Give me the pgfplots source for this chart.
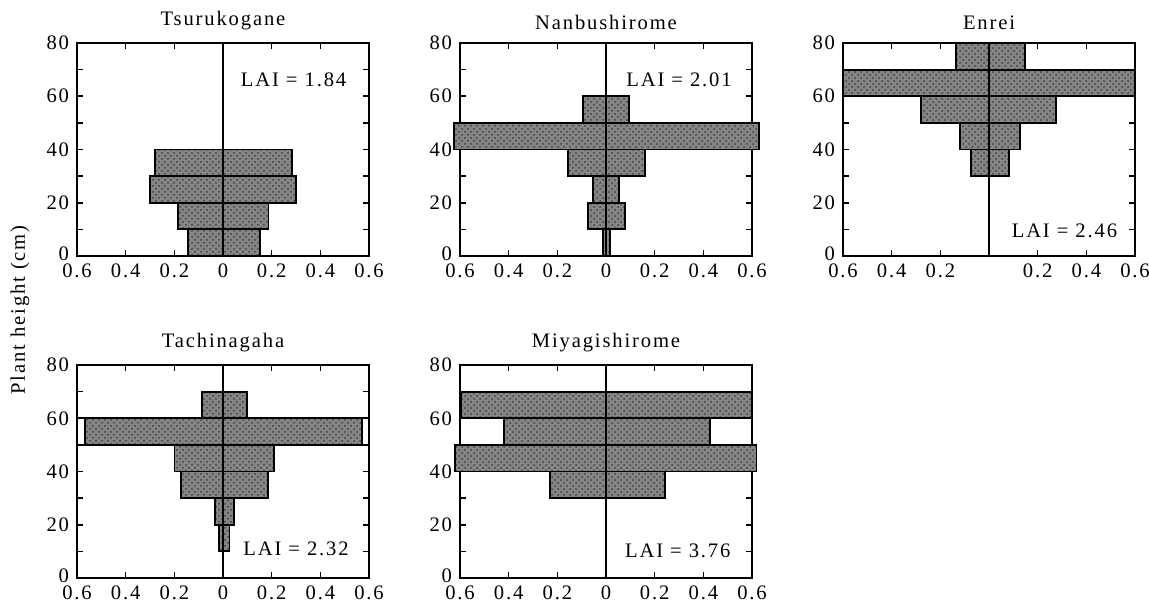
\documentclass[border=0pt]{standalone}
\usepackage{pgfplots}
\pgfplotsset{compat=1.18}
\usetikzlibrary{patterns}
\usepackage{fontspec}
\setmainfont{Liberation Serif}[LetterSpace=9]
\pgfplotsset{
  panel/.style={
    scale only axis, width=146pt, height=106.5pt,
    xmin=-0.6, xmax=0.6, ymin=0, ymax=80,
    xtick={-0.6,-0.4,-0.2,0,0.2,0.4,0.6},
    xticklabels={0.6,0.4,0.2,0,0.2,0.4,0.6},
    ytick={0,10,...,80},
    yticklabels={\raisebox{2pt}{0},,20,,40,,60,,80},
    tick align=inside, major tick length=3pt,
    tick style={black, line width=0.8pt},
    axis line style={line width=1pt},
    clip=false,
    font=\fontsize{10.3}{12}\selectfont,
    title style={yshift=-3pt},
    xticklabel style={yshift=-2.8pt, inner sep=1pt},
    yticklabel style={xshift=-2.8pt, inner sep=1pt},
  },
  bar/.style={draw=black, line width=0.9pt, fill=black!48,
    postaction={pattern=crosshatch dots, pattern color=black!75}},
  mid/.style={black, line width=0.6pt},
}
\begin{document}
\begin{tikzpicture}
\useasboundingbox (0pt,0pt) rectangle (574.5pt,301.5pt);
% Tsurukogane
\begin{axis}[panel, at={(38.5pt,173.5pt)}, anchor=south west, title={Tsurukogane}]
\addplot[bar] coordinates {(-0.144,0) (0.151,0) (0.151,10) (-0.144,10)} -- cycle;
\addplot[bar] coordinates {(-0.185,10) (0.187,10) (0.187,20) (-0.185,20)} -- cycle;
\addplot[bar] coordinates {(-0.299,20) (0.299,20) (0.299,30) (-0.299,30)} -- cycle;
\addplot[bar] coordinates {(-0.281,30) (0.285,30) (0.285,40) (-0.281,40)} -- cycle;
\addplot[mid] coordinates {(0,0) (0,80)};
\node at (axis cs:0.29,66) {LAI = 1.84};
\end{axis}
% Nanbushirome
\begin{axis}[panel, at={(230pt,173.5pt)}, anchor=south west, title={Nanbushirome}]
\addplot[bar] coordinates {(-0.014,0) (0.016,0) (0.016,10) (-0.014,10)} -- cycle;
\addplot[bar] coordinates {(-0.075,10) (0.078,10) (0.078,20) (-0.075,20)} -- cycle;
\addplot[bar] coordinates {(-0.052,20) (0.053,20) (0.053,30) (-0.052,30)} -- cycle;
\addplot[bar] coordinates {(-0.155,30) (0.160,30) (0.160,40) (-0.155,40)} -- cycle;
\addplot[bar] coordinates {(-0.625,40) (0.627,40) (0.627,50) (-0.625,50)} -- cycle;
\addplot[bar] coordinates {(-0.093,50) (0.094,50) (0.094,60) (-0.093,60)} -- cycle;
\addplot[mid] coordinates {(0,0) (0,80)};
\node at (axis cs:0.30,66) {LAI = 2.01};
\end{axis}
% Enrei
\begin{axis}[panel, at={(421.5pt,173.5pt)}, anchor=south west, title={Enrei},
  xticklabels={0.6,0.4,0.2,,0.2,0.4,0.6}]
\addplot[bar] coordinates {(-0.074,30) (0.081,30) (0.081,40) (-0.074,40)} -- cycle;
\addplot[bar] coordinates {(-0.119,40) (0.127,40) (0.127,50) (-0.119,50)} -- cycle;
\addplot[bar] coordinates {(-0.279,50) (0.276,50) (0.276,60) (-0.279,60)} -- cycle;
\addplot[bar] coordinates {(-0.6,60) (0.6,60) (0.6,70) (-0.6,70)} -- cycle;
\addplot[bar] coordinates {(-0.135,70) (0.148,70) (0.148,80) (-0.135,80)} -- cycle;
\addplot[mid] coordinates {(0,0) (0,80)};
\node at (axis cs:0.31,9.5) {LAI = 2.46};
\end{axis}
% Tachinagaha
\begin{axis}[panel, at={(38.5pt,12.5pt)}, anchor=south west, title={Tachinagaha}]
\addplot[draw=black, line width=0.9pt, fill=white] coordinates {(-0.6,50) (0.6,50) (0.6,60) (-0.6,60)} -- cycle;
\addplot[bar] coordinates {(-0.018,10) (0.027,10) (0.027,20) (-0.018,20)} -- cycle;
\addplot[bar] coordinates {(-0.032,20) (0.044,20) (0.044,30) (-0.032,30)} -- cycle;
\addplot[bar] coordinates {(-0.174,30) (0.185,30) (0.185,40) (-0.174,40)} -- cycle;
\addplot[bar] coordinates {(-0.199,40) (0.209,40) (0.209,50) (-0.199,50)} -- cycle;
\addplot[bar] coordinates {(-0.567,50) (0.572,50) (0.572,60) (-0.567,60)} -- cycle;
\addplot[bar] coordinates {(-0.086,60) (0.099,60) (0.099,70) (-0.086,70)} -- cycle;
\addplot[mid] coordinates {(0,0) (0,80)};
\node at (axis cs:0.30,11) {LAI = 2.32};
\end{axis}
% Miyagishirome
\begin{axis}[panel, at={(230pt,12.5pt)}, anchor=south west, title={Miyagishirome}]
\addplot[bar] coordinates {(-0.230,30) (0.241,30) (0.241,40) (-0.230,40)} -- cycle;
\addplot[bar] coordinates {(-0.621,40) (0.618,40) (0.618,50) (-0.621,50)} -- cycle;
\addplot[bar] coordinates {(-0.420,50) (0.428,50) (0.428,60) (-0.420,60)} -- cycle;
\addplot[bar] coordinates {(-0.595,60) (0.599,60) (0.599,70) (-0.595,70)} -- cycle;
\addplot[mid] coordinates {(0,0) (0,80)};
\node at (axis cs:0.295,10.2) {LAI = 3.76};
\end{axis}
\node[rotate=90, font=\fontsize{10.3}{12}\selectfont] at (10pt,146.5pt) {Plant height (cm)};
\end{tikzpicture}
\end{document}
